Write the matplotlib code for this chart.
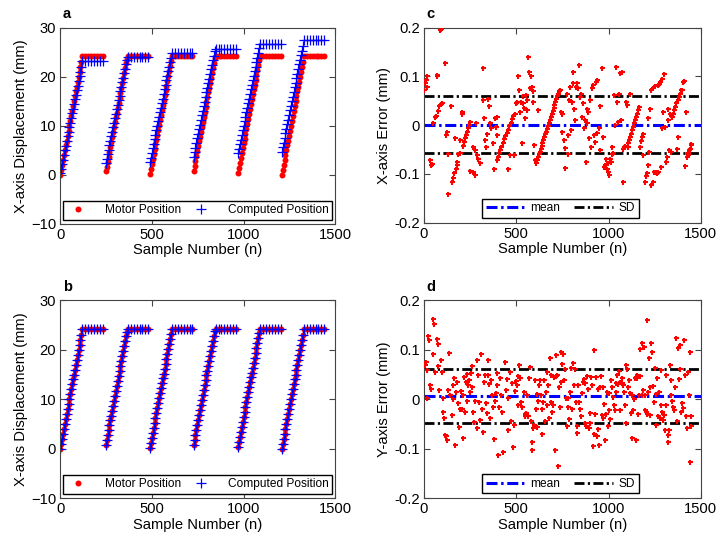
import matplotlib.pyplot as plt
import numpy as np

plt.rcParams['font.family'] = ['Liberation Sans', 'DejaVu Sans']

# ---- panels a/b: six move cycles (ramp then hold) ----
cycle_start = [0, 248, 489, 727, 970, 1208]   # sample number where each ramp begins
ramp_step = 5       # samples between ramp points
plateau_step = 16   # samples between hold points
plateau_points = 8

motor_ramp = [
    [0.0, 1.0, 2.0, 3.0, 4.0, 5.0, 6.0, 7.0, 8.0, 9.0, 10.0, 11.0, 12.0, 13.0, 14.0, 15.0, 16.0, 17.0, 18.0, 19.0, 20.0, 21.0, 22.0, 23.0],
    [0.7, 1.7, 2.7, 3.7, 4.7, 5.7, 6.7, 7.7, 8.7, 9.7, 10.7, 11.7, 12.7, 13.7, 14.7, 15.7, 16.7, 17.7, 18.7, 19.7, 20.7, 21.7, 22.7, 23.7],
    [0.2, 1.2, 2.2, 3.2, 4.2, 5.2, 6.2, 7.2, 8.2, 9.2, 10.2, 11.2, 12.2, 13.2, 14.2, 15.2, 16.2, 17.2, 18.2, 19.2, 20.2, 21.2, 22.2, 23.2],
    [0.8, 1.8, 2.8, 3.8, 4.8, 5.8, 6.8, 7.8, 8.8, 9.8, 10.8, 11.8, 12.8, 13.8, 14.8, 15.8, 16.8, 17.8, 18.8, 19.8, 20.8, 21.8, 22.8, 23.8],
    [0.4, 1.4, 2.4, 3.4, 4.4, 5.4, 6.4, 7.4, 8.4, 9.4, 10.4, 11.4, 12.4, 13.4, 14.4, 15.4, 16.4, 17.4, 18.4, 19.4, 20.4, 21.4, 22.4, 23.4],
    [0.0, 1.0, 2.0, 3.0, 4.0, 5.0, 6.0, 7.0, 8.0, 9.0, 10.0, 11.0, 12.0, 13.0, 14.0, 15.0, 16.0, 17.0, 18.0, 19.0, 20.0, 21.0, 22.0, 23.0],
]
motor_hold = 24.3

# uncorrected computed position (panel a)
computed_ramp_a = [
    [0.3, 1.24, 2.18, 3.13, 4.07, 5.01, 5.95, 6.89, 7.84, 8.78, 9.72, 10.66, 11.6, 12.55, 13.49, 14.43, 15.37, 16.31, 17.26, 18.2, 19.14, 20.08, 21.02, 21.97],
    [2.4, 3.32, 4.23, 5.15, 6.06, 6.98, 7.89, 8.81, 9.72, 10.64, 11.55, 12.47, 13.38, 14.3, 15.21, 16.13, 17.04, 17.96, 18.87, 19.79, 20.7, 21.62, 22.53, 23.45],
    [2.6, 3.53, 4.45, 5.38, 6.3, 7.23, 8.15, 9.08, 10.0, 10.93, 11.85, 12.78, 13.7, 14.63, 15.55, 16.48, 17.4, 18.33, 19.25, 20.18, 21.1, 22.03, 22.95, 23.88],
    [3.7, 4.64, 5.57, 6.51, 7.44, 8.38, 9.32, 10.25, 11.19, 12.12, 13.06, 14.0, 14.93, 15.87, 16.8, 17.74, 18.68, 19.61, 20.55, 21.48, 22.42, 23.36, 24.29, 25.23],
    [4.4, 5.33, 6.26, 7.19, 8.12, 9.05, 9.97, 10.9, 11.83, 12.76, 13.69, 14.62, 15.55, 16.48, 17.41, 18.34, 19.26, 20.19, 21.12, 22.05, 22.98, 23.91, 24.84, 25.77],
    [4.7, 5.64, 6.58, 7.51, 8.45, 9.39, 10.33, 11.27, 12.2, 13.14, 14.08, 15.02, 15.96, 16.89, 17.83, 18.77, 19.71, 20.65, 21.58, 22.52, 23.46, 24.4, 25.34, 26.27],
]
computed_hold_a = [23.2, 24.0, 24.9, 25.7, 26.6, 27.5]

# ---- panel c: X-axis error ----
sample_c = [2, 5, 10, 14, 18, 30, 38, 45, 50, 60,
            66, 68, 72, 78, 84, 86, 90, 92, 96, 114,
            120, 125, 128, 132, 145, 152, 158, 165, 170, 172,
            177, 181, 186, 195, 195, 204, 206, 210, 217, 222,
            228, 233, 239, 244, 250, 251, 264, 268, 275, 277,
            282, 288, 293, 303, 318, 322, 325, 331, 336, 343,
            349, 354, 358, 363, 372, 381, 385, 390, 394, 396,
            398, 402, 408, 414, 420, 427, 434, 441, 448, 455,
            457, 462, 466, 469, 476, 484, 488, 492, 499, 506,
            511, 516, 520, 524, 529, 534, 538, 544, 550, 551,
            556, 561, 566, 570, 575, 580, 584, 589, 593, 596,
            601, 607, 612, 617, 620, 622, 627, 632, 637, 642,
            647, 652, 657, 662, 667, 672, 677, 682, 687, 692,
            697, 702, 707, 712, 717, 722, 727, 732, 737, 742,
            746, 748, 759, 764, 766, 773, 778, 782, 786, 791,
            795, 800, 806, 810, 815, 819, 824, 831, 837, 842,
            846, 851, 855, 862, 867, 873, 878, 882, 885, 891,
            897, 900, 905, 909, 915, 920, 927, 932, 936, 940,
            946, 952, 956, 963, 969, 976, 981, 986, 990, 995,
            999, 1002, 1007, 1012, 1017, 1021, 1026, 1030, 1036, 1041,
            1048, 1053, 1057, 1062, 1066, 1072, 1076, 1080, 1086, 1090,
            1095, 1099, 1103, 1108, 1113, 1117, 1118, 1123, 1128, 1133,
            1138, 1143, 1148, 1153, 1158, 1164, 1171, 1176, 1180, 1186,
            1189, 1198, 1203, 1207, 1212, 1216, 1222, 1225, 1231, 1233,
            1240, 1243, 1248, 1252, 1257, 1261, 1267, 1270, 1275, 1279,
            1283, 1288, 1290, 1297, 1301, 1306, 1312, 1319, 1322, 1325,
            1330, 1334, 1340, 1343, 1350, 1356, 1362, 1368, 1370, 1374,
            1379, 1380, 1386, 1392, 1397, 1403, 1408, 1415, 1420, 1425,
            1429, 1433, 1437, 1441, 1445, 1449]
err_x = [0.072, 0.086, 0.093, 0.100, 0.078, -0.072, -0.082, -0.080, 0.004, 0.017,
         0.019, 0.100, 0.103, 0.030, 0.039, 0.195, 0.043, 0.197, 0.045, 0.127,
         -0.020, -0.013, -0.060, -0.142, 0.040, -0.116, -0.109, -0.099, -0.027, -0.089,
         -0.082, -0.075, -0.060, -0.058, -0.030, 0.024, 0.028, -0.042, -0.034, -0.027,
         -0.020, -0.013, -0.006, 0.000, -0.093, 0.007, -0.097, -0.044, -0.050, -0.102,
         0.005, -0.061, -0.070, -0.078, 0.052, 0.117, 0.014, -0.030, -0.044, -0.017,
         0.053, 0.040, 0.004, -0.006, -0.037, -0.090, 0.014, -0.003, -0.020, -0.071,
         0.016, -0.065, -0.058, -0.051, -0.044, -0.037, -0.029, -0.022, -0.015, -0.009,
         -0.089, -0.002, -0.062, 0.005, 0.012, 0.019, -0.061, 0.024, 0.045, 0.048,
         0.100, 0.072, 0.028, 0.048, -0.037, 0.060, 0.045, 0.036, 0.014, 0.062,
         0.052, 0.031, 0.140, 0.110, 0.076, 0.100, 0.078, 0.070, 0.048, -0.040,
         -0.071, -0.078, -0.072, -0.066, 0.031, -0.060, -0.054, -0.048, -0.043, -0.037,
         -0.031, -0.025, -0.019, -0.013, -0.007, -0.001, 0.005, 0.011, 0.017, 0.023,
         0.029, 0.035, 0.041, 0.047, 0.053, 0.059, 0.065, 0.070, 0.072, 0.028,
         0.024, -0.013, -0.030, -0.047, -0.088, 0.065, -0.020, -0.059, 0.052, 0.079,
         -0.010, 0.048, 0.110, 0.086, 0.034, 0.010, 0.079, 0.086, 0.076, 0.124,
         0.058, 0.065, 0.017, 0.045, -0.005, 0.010, -0.076, 0.005, 0.034, 0.028,
         -0.027, 0.052, -0.044, 0.076, 0.082, -0.020, -0.034, 0.089, -0.015, 0.092,
         -0.005, 0.040, -0.050, 0.117, -0.024, -0.085, -0.082, -0.070, -0.089, -0.095,
         -0.078, -0.102, -0.070, -0.075, -0.044, -0.060, -0.058, 0.062, 0.000, 0.120,
         0.048, 0.007, 0.065, 0.108, 0.010, 0.110, -0.048, -0.116, -0.044, -0.042,
         0.048, 0.041, -0.044, -0.037, -0.030, 0.065, -0.024, -0.017, -0.010, -0.003,
         0.004, 0.011, 0.017, 0.024, 0.031, 0.037, -0.044, -0.032, -0.024, -0.017,
         -0.061, -0.116, -0.105, -0.099, 0.015, -0.082, -0.055, 0.034, 0.072, -0.123,
         0.076, -0.116, -0.095, 0.080, -0.095, -0.099, 0.082, -0.097, 0.085, 0.089,
         -0.085, 0.095, -0.006, 0.028, 0.105, -0.003, -0.075, -0.065, 0.010, 0.034,
         -0.051, 0.024, -0.055, 0.017, 0.024, 0.031, 0.038, 0.045, -0.048, 0.052,
         -0.024, 0.058, 0.065, 0.072, 0.072, 0.089, 0.091, -0.083, 0.028, -0.065,
         -0.061, -0.058, -0.051, -0.048, -0.041, -0.039]
mean_x, sd_x = 0.001, 0.059

# ---- panel d: Y-axis error ----
sample_d = [5, 10, 14, 18, 24, 29, 32, 38, 47, 51,
            56, 60, 69, 74, 78, 83, 90, 96, 101, 105,
            108, 114, 119, 126, 132, 137, 141, 150, 155, 159,
            164, 168, 174, 180, 186, 191, 195, 200, 204, 209,
            213, 217, 222, 226, 231, 235, 240, 244, 249, 253,
            258, 262, 267, 271, 276, 285, 290, 294, 298, 303,
            308, 313, 318, 324, 330, 335, 340, 345, 348, 355,
            360, 365, 370, 375, 379, 384, 389, 394, 398, 403,
            408, 413, 418, 425, 430, 438, 443, 448, 453, 458,
            464, 470, 476, 484, 489, 493, 497, 502, 507, 512,
            517, 522, 528, 533, 540, 546, 550, 555, 560, 564,
            569, 574, 578, 583, 587, 592, 597, 602, 606, 611,
            615, 619, 623, 628, 632, 637, 641, 646, 650, 655,
            659, 664, 668, 673, 677, 682, 687, 691, 696, 700,
            705, 709, 713, 718, 722, 727, 732, 737, 741, 745,
            750, 754, 758, 763, 768, 773, 778, 783, 788, 793,
            798, 803, 808, 813, 818, 823, 827, 830, 835, 840,
            845, 850, 855, 860, 865, 870, 875, 880, 885, 889,
            894, 898, 902, 907, 911, 916, 920, 923, 928, 932,
            937, 941, 944, 950, 955, 959, 963, 968, 972, 977,
            981, 986, 990, 995, 1000, 1005, 1010, 1016, 1021, 1025,
            1030, 1034, 1038, 1042, 1047, 1052, 1056, 1060, 1065, 1071,
            1075, 1080, 1084, 1089, 1093, 1097, 1101, 1106, 1110, 1116,
            1121, 1125, 1130, 1134, 1139, 1143, 1148, 1152, 1157, 1161,
            1166, 1170, 1173, 1179, 1183, 1188, 1192, 1196, 1200, 1203,
            1206, 1211, 1216, 1220, 1224, 1227, 1233, 1238, 1243, 1247,
            1251, 1256, 1260, 1265, 1269, 1274, 1278, 1283, 1287, 1292,
            1296, 1300, 1305, 1309, 1314, 1320, 1323, 1328, 1332, 1336,
            1341, 1346, 1350, 1355, 1360, 1368, 1372, 1377, 1381, 1386,
            1390, 1395, 1399, 1404, 1408, 1413, 1418, 1426, 1431, 1435,
            1440, 1444, 1447, 1449]
err_y = [0.069, 0.076, 0.059, 0.002, 0.127, 0.120, 0.029, 0.020, 0.091, 0.162,
         0.152, 0.056, 0.121, 0.111, 0.068, 0.019, 0.079, 0.056, 0.002, -0.025,
         -0.038, -0.073, -0.074, -0.083, 0.019, 0.093, 0.008, -0.032, 0.029, 0.000,
         0.042, -0.093, 0.015, 0.034, -0.008, -0.056, -0.020, 0.017, -0.019, -0.079,
         0.008, 0.044, -0.025, 0.034, 0.052, -0.004, 0.029, 0.039, 0.014, 0.054,
         0.067, 0.025, -0.025, -0.047, -0.004, 0.079, -0.059, 0.050, -0.005, -0.042,
         0.091, -0.020, -0.066, 0.035, 0.048, -0.008, -0.027, 0.048, 0.079, 0.030,
         -0.039, 0.038, 0.008, -0.015, -0.081, -0.004, 0.012, 0.054, 0.028, -0.113,
         -0.015, 0.042, 0.008, -0.025, -0.106, 0.076, 0.019, 0.041, -0.062, 0.003,
         0.055, -0.045, 0.033, -0.096, -0.053, 0.016, 0.037, 0.029, 0.046, -0.012,
         0.069, 0.042, -0.005, -0.015, 0.015, -0.035, -0.029, -0.027, 0.008, -0.035,
         0.042, 0.066, -0.044, -0.086, -0.103, -0.059, -0.052, 0.039, -0.020, 0.010,
         -0.056, -0.003, 0.029, 0.039, 0.008, -0.071, -0.019, -0.005, 0.038, -0.045,
         0.015, 0.056, -0.012, 0.029, -0.038, 0.083, 0.049, -0.005, -0.025, -0.012,
         0.045, -0.103, 0.046, 0.090, 0.050, -0.135, 0.025, -0.015, 0.035, 0.096,
         0.072, 0.091, 0.039, 0.061, 0.002, -0.055, 0.002, -0.015, -0.040, 0.015,
         0.063, -0.020, 0.073, 0.029, 0.062, -0.005, -0.055, -0.069, 0.029, -0.005,
         -0.020, -0.035, 0.012, 0.034, 0.040, -0.048, 0.032, -0.055, 0.047, 0.020,
         -0.058, -0.048, -0.028, 0.045, 0.028, -0.095, -0.070, 0.100, -0.030, 0.045,
         -0.074, -0.060, 0.020, -0.092, 0.024, 0.046, -0.031, -0.038, 0.024, -0.010,
         -0.082, -0.030, 0.014, -0.055, -0.021, 0.012, -0.040, 0.039, 0.025, 0.005,
         -0.012, -0.022, 0.032, 0.015, 0.049, 0.030, 0.057, -0.022, 0.034, 0.032,
         0.042, 0.029, 0.014, -0.012, 0.069, -0.049, 0.062, 0.025, 0.038, 0.012,
         -0.028, -0.079, 0.008, -0.022, 0.001, 0.042, -0.083, 0.042, 0.048, -0.029,
         0.008, 0.046, 0.102, 0.113, 0.008, 0.018, 0.106, 0.008, -0.022, -0.025,
         0.160, -0.029, 0.015, 0.084, -0.032, 0.025, 0.113, 0.096, 0.027, -0.005,
         0.064, -0.052, 0.010, 0.043, -0.035, 0.015, -0.039, -0.012, 0.059, -0.025,
         -0.042, -0.032, -0.062, 0.049, -0.012, -0.086, -0.073, -0.062, 0.069, 0.039,
         0.008, -0.004, -0.015, -0.022, 0.025, 0.123, -0.045, 0.103, 0.040, 0.110,
         0.062, -0.025, -0.008, -0.018, 0.120, 0.050, -0.035, -0.059, 0.056, 0.008,
         -0.127, 0.096, -0.055, -0.035]
mean_y, sd_y = 0.007, 0.055

# build sample axis + series for panels a/b
samples, motor, computed_a = [], [], []
for start, m_ramp, c_ramp, c_hold in zip(cycle_start, motor_ramp, computed_ramp_a, computed_hold_a):
    n = len(m_ramp)
    samples += list(start + ramp_step * np.arange(n))
    samples += list(start + ramp_step * n + plateau_step * np.arange(plateau_points))
    motor += m_ramp + [motor_hold] * plateau_points
    computed_a += c_ramp + [c_hold] * plateau_points
computed_b = motor  # corrected positions sit within +-0.2 mm of the motor, same at this scale

fig = plt.figure(figsize=(7.18, 5.37), dpi=100)
ax_a = fig.add_axes([0.084, 0.583, 0.383, 0.3655])
ax_c = fig.add_axes([0.5905, 0.5853, 0.3855, 0.363])
ax_b = fig.add_axes([0.084, 0.0726, 0.383, 0.368])
ax_d = fig.add_axes([0.5905, 0.0726, 0.3855, 0.368])

FS = 10.6


def style(ax, letter):
    ax.tick_params(direction='in', top=True, right=True, length=4, width=0.8,
                   color='#444444', labelsize=FS, pad=3)
    for s in ax.spines.values():
        s.set_color('#444444')
        s.set_linewidth(0.8)
    ax.text(0.01, 1.07, letter, transform=ax.transAxes, fontweight='bold',
            fontsize=10.5, va='center', ha='left')
    ax.set_xlim(0, 1500)
    ax.set_xticks([0, 500, 1000, 1500])
    ax.set_xlabel('Sample Number (n)', fontsize=FS, labelpad=1)


for ax, comp, letter in [(ax_a, computed_a, 'a'), (ax_b, computed_b, 'b')]:
    ax.plot(samples, motor, 'o', color='#ff0000', ms=4.3, mec='none', label='Motor Position')
    ax.plot(samples, comp, '+', color='#0000ff', ms=7.5, mew=0.9, label='Computed Position')
    ax.set_ylim(-10, 30)
    ax.set_yticks([-10, 0, 10, 20, 30])
    ax.set_ylabel('X-axis Displacement (mm)', fontsize=FS, labelpad=2)
    style(ax, letter)
    ax.legend(loc='lower left', bbox_to_anchor=(0.009, 0.02, 0.979, 0.108), mode='expand',
              ncol=2, fontsize=8.6, frameon=True, fancybox=False, edgecolor='black',
              framealpha=1, borderpad=0.3, handlelength=2.0, handletextpad=1.2,
              borderaxespad=0)

dash = (0, (3.6, 1.2, 0.8, 1.2))
for ax, xs, err, mu, sd, letter, lab in [(ax_c, sample_c, err_x, mean_x, sd_x, 'c', 'X-axis Error (mm)'),
                                          (ax_d, sample_d, err_y, mean_y, sd_y, 'd', 'Y-axis Error (mm)')]:
    ax.plot(xs, err, '+', color='#ff0000', ms=3.6, mew=1.5, zorder=3)
    ax.plot([0, 1500], [mu, mu], color='#0000ff', lw=2.2, ls=dash, label='mean', zorder=2)
    ax.plot([0, 1500], [mu + sd, mu + sd], color='black', lw=2.0, ls=dash, label='SD', zorder=2)
    ax.plot([0, 1500], [mu - sd, mu - sd], color='black', lw=2.0, ls=dash, zorder=2)
    ax.set_ylim(-0.2, 0.2)
    ax.set_yticks([-0.2, -0.1, 0, 0.1, 0.2])
    ax.set_yticklabels(['-0.2', '-0.1', '0', '0.1', '0.2'])
    ax.set_ylabel(lab, fontsize=FS, labelpad=2)
    style(ax, letter)
    ax.legend(loc='lower left', bbox_to_anchor=(0.21, 0.024, 0.566, 0.1), mode='expand',
              ncol=2, fontsize=8.6, frameon=True, fancybox=False, edgecolor='black',
              framealpha=1, borderpad=0.3, handlelength=3.2, handletextpad=0.5,
              borderaxespad=0)

fig.savefig('out.png', dpi=100)
